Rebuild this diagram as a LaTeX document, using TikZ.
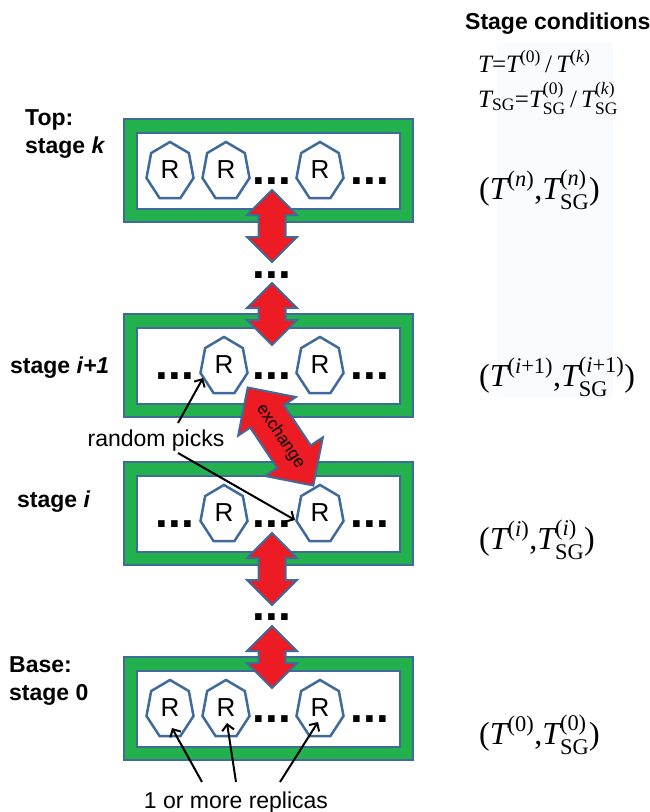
\documentclass[tikz,border=0pt]{standalone}
\usepackage{fontspec}
\usepackage{amsmath}
\setmainfont{Liberation Sans}
\newfontfamily\tnr{Liberation Serif}
\usetikzlibrary{shapes.arrows,arrows.meta,calc}
\definecolor{gband}{HTML}{22B14C}
\definecolor{bline}{HTML}{3F6A9A}
\definecolor{redarr}{HTML}{ED1C24}
\definecolor{panel}{HTML}{FAFBFE}
\newcommand\hept[3]{%
  \draw[hepline] ({#2},{#3+1.45}) +(270:24.1 and 29.5)
    \foreach \k in {1,...,6}{ -- +({270+\k*360/7}:24.1 and 29.5)} -- cycle;
  \node[rlab] (#1) at (#2,#3) {R};}
\newcommand\stagebox[2]{%
  \node[outerbox] (#1) at (268.5,{#2+51.5}) {};
  \node[innerbox] (#1i) at (268.5,{#2+52}) {};}
\tikzset{
  outerbox/.style={draw=bline, line width=2.5pt, fill=gband, minimum width=289pt, minimum height=103pt, inner sep=0pt},
  innerbox/.style={draw=bline, line width=2.5pt, fill=white, minimum width=263pt, minimum height=76pt, inner sep=0pt},
  hepline/.style={draw=bline, line width=2.5pt, fill=white},
  rlab/.style={font=\fontsize{26}{26}\selectfont, inner sep=0pt},
  dotsty/.style={font=\fontsize{46}{46}\selectfont\bfseries, inner sep=0pt, anchor=base},
  varrow/.style={double arrow, draw=bline, line width=2pt, fill=redarr, rotate=90,
    minimum height=#1, inner xsep=0pt, inner ysep=12.5pt, double arrow head extend=11.5pt},
  xarrow/.style={double arrow, draw=bline, line width=2pt, fill=redarr, rotate=-56.2,
    font=\fontsize{17}{17}\selectfont, text height=12pt, text depth=3.5pt,
    minimum height=118pt, inner xsep=-11pt, inner ysep=11.5pt, double arrow head extend=14.5pt},
  lab/.style={font=\fontsize{23}{28}\selectfont, inner sep=0pt},
  blab/.style={font=\fontsize{23}{28}\selectfont\bfseries, inner sep=0pt, anchor=base west, align=left},
  fml/.style={font=\tnr\fontsize{32}{36}\selectfont, inner sep=0pt, anchor=west},
  tfml/.style={font=\tnr\fontsize{25}{30}\selectfont, inner sep=0pt, anchor=base west},
  pick/.style={draw=black, line width=2pt, -{Straight Barb[length=6pt,width=12pt]}}
}
\begin{document}
\begin{tikzpicture}[x=1pt,y=-1pt]
\useasboundingbox (0,0) rectangle (650,812);
\fill[panel] (497,42) rectangle (613,398);
% stage boxes
\stagebox{sk}{119}
\stagebox{sp}{314}
\stagebox{si}{462}
\stagebox{sb}{657}
% stage k
\hept{k1}{170}{170}\hept{k2}{226}{170}\hept{k3}{320}{170}
\node[dotsty] (kd1) at (272,184) {...};
\node[dotsty] (kd2) at (370,184) {...};
% stage i+1
\node[dotsty] (pd0) at (175,379) {...};
\hept{p1}{224}{365}\hept{p2}{320}{365}
\node[dotsty] (pd1) at (272,379) {...};
\node[dotsty] (pd2) at (370,379) {...};
% stage i
\node[dotsty] (qd0) at (175,527) {...};
\hept{q1}{224}{513}\hept{q2}{320}{513}
\node[dotsty] (qd1) at (272,527) {...};
\node[dotsty] (qd2) at (370,527) {...};
% base
\hept{b1}{170}{708}\hept{b2}{226}{708}\hept{b3}{320}{708}
\node[dotsty] (bd1) at (272,722) {...};
\node[dotsty] (bd2) at (370,722) {...};
% vertical dots
\node[dotsty] (vd1) at (272,278) {...};
\node[dotsty] (vd2) at (272,620) {...};
% red arrows
\node[varrow=72pt] (a1) at (272,226) {};
\node[varrow=62pt] (a2) at (272,314) {};
\node[varrow=72pt] (a3) at (272,569) {};
\node[varrow=62pt] (a4) at (272,657) {};
\node[xarrow] (ex) at (280.5,436.5) {exchange};
% left labels
\node[blab] (lk) at (25,153) {Top:\\stage \textit{k}};
\node[blab] (lp) at (10,373) {stage \textit{i+1}};
\node[blab] (li) at (17,507) {stage \textit{i}};
\node[blab] (lb) at (9,700) {Base:\\stage 0};
% right conditions
\node[font=\fontsize{23}{28}\selectfont\bfseries, inner sep=0pt, anchor=base west] (sc) at (465,29) {Stage conditions};
\node[tfml] (c1) at (478,72) {$\textit{T}\text{=}\textit{T}^{\text{(0)}}\text{\,/\,}\textit{T}^{\text{(\textit{k})}}$};
\node[tfml] (c2) at (478,107) {$\textit{T}_{\text{SG}}\text{=}\textit{T}^{\text{(0)}}_{\text{SG}}\text{\,/\,}\textit{T}^{\text{(\textit{k})}}_{\text{SG}}$};
\node[fml] (fk) at (479,190) {$\text{(}\textit{T}^{\text{(\textit{n})}}\text{,}\textit{T}^{\text{(\textit{n})}}_{\text{SG}}\text{)}$};
\node[fml] (fp) at (479,377) {$\text{(}\textit{T}^{\text{(\textit{i}+1)}}\text{,}\textit{T}^{\text{(\textit{i}+1)}}_{\text{SG}}\text{)}$};
\node[fml] (fi) at (479,540) {$\text{(}\textit{T}^{\text{(\textit{i})}}\text{,}\textit{T}^{\text{(\textit{i})}}_{\text{SG}}\text{)}$};
\node[fml] (fb) at (479,735) {$\text{(}\textit{T}^{\text{(0)}}\text{,}\textit{T}^{\text{(0)}}_{\text{SG}}\text{)}$};
% random picks
\node[lab] (rp) at (156,441) {random picks};
\coordinate (rpa) at (178,423);
\coordinate (rpb) at (178,453);
\draw[pick] (rpa) -- ($(p1)+(-21,13)$);
\draw[pick] (rpb) -- ($(q2)+(-25,7)$);
% replicas
\node[lab, anchor=base] (rep) at (236,808) {1 or more replicas};
\coordinate (ra) at (202,782);
\coordinate (rb) at (236,782);
\coordinate (rc) at (280,782);
\draw[pick] (ra) -- ($(b1)+(2,20)$);
\draw[pick] (rb) -- ($(b2)+(1,15)$);
\draw[pick] (rc) -- ($(b3)+(-2,14)$);
\end{tikzpicture}
\end{document}
